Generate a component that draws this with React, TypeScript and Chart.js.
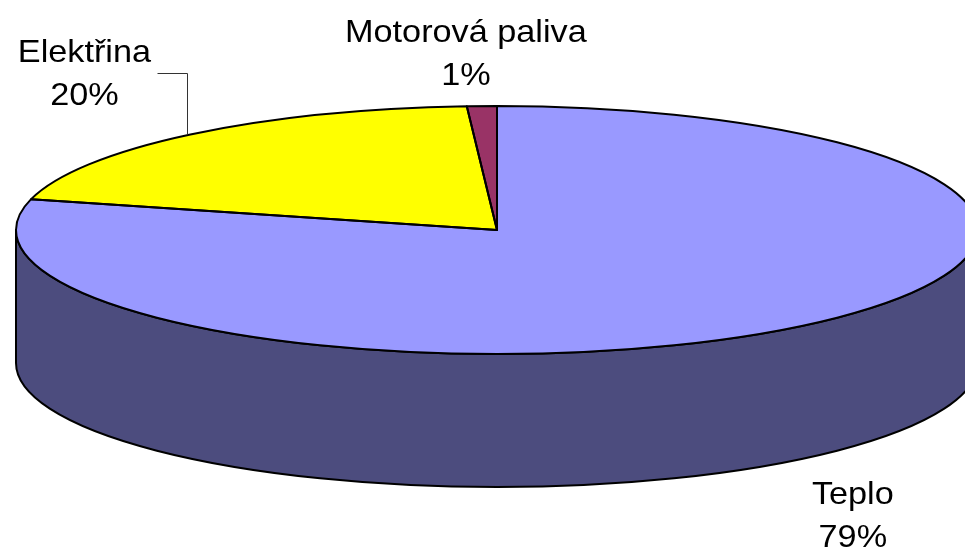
import React, { useEffect, useRef } from 'react';
import { Chart, registerables } from 'chart.js';

Chart.register(...registerables);

// ---- data ----
const categories = ['Teplo', 'Elektřina', 'Motorová paliva'];
const values = [79, 20, 1];

// ---- styles ----
const topColors = ['#9999FF', '#FFFF00', '#993366'];
const sideColors = ['#4C4C7E', '#80807F', '#4C1933'];
const FONT = '32px "Liberation Sans", Arial, sans-serif';
const TEXT_STRETCH = 1.07;
const LINE_GAP = 43;

// ---- layout (3D ellipse geometry) ----
const CX = 497;
const CY = 230;
const RX = 481;
const RY = 124;
const DEPTH = 133;

// label offsets relative to the slice mid-point on the top rim
const labelOffsets = [
  { dx: 61, dy: 176 },
  { dx: -106, dy: -72 },
  { dx: -16, dy: -64 },
];
// leader lines (only for Elektřina): vertical up to dy, then horizontal to dx
const leaders: ({ up: number; left: number } | null)[] = [null, { up: -61, left: -30 }, null];

const rim = (a: number, dy = 0) => ({ x: CX + RX * Math.cos(a), y: CY + dy + RY * Math.sin(a) });

const pie3d = {
  id: 'pie3d',
  beforeDatasetsDraw(chart: any) {
    const ctx: CanvasRenderingContext2D = chart.ctx;
    const arcs: any[] = chart.getDatasetMeta(0).data;
    if (!arcs.length) return;
    ctx.save();
    ctx.lineWidth = 2;
    ctx.strokeStyle = '#000';
    ctx.lineJoin = 'round';
    arcs.forEach((arc, i) => {
      const { startAngle, endAngle } = arc.getProps(['startAngle', 'endAngle'], true);
      for (const k of [-2, 0, 2]) {
        const lo = Math.max(startAngle, k * Math.PI);
        const hi = Math.min(endAngle, (k + 1) * Math.PI);
        if (hi <= lo) continue;
        ctx.beginPath();
        ctx.ellipse(CX, CY, RX, RY, 0, lo, hi, false);
        const p = rim(hi, DEPTH);
        ctx.lineTo(p.x, p.y);
        ctx.ellipse(CX, CY + DEPTH, RX, RY, 0, hi, lo, true);
        ctx.closePath();
        ctx.fillStyle = sideColors[i];
        ctx.fill();
        ctx.stroke();
      }
    });
    ctx.restore();
    const a0 = arcs[0];
    const R = a0.outerRadius;
    ctx.save();
    ctx.translate(CX, CY);
    ctx.scale(RX / R, RY / R);
    ctx.translate(-a0.x, -a0.y);
  },
  afterDatasetsDraw(chart: any) {
    const ctx: CanvasRenderingContext2D = chart.ctx;
    const arcs: any[] = chart.getDatasetMeta(0).data;
    if (!arcs.length) return;
    ctx.restore();
    ctx.save();
    ctx.lineWidth = 2;
    ctx.strokeStyle = '#000';
    ctx.lineJoin = 'round';
    arcs.forEach((arc) => {
      const { startAngle, endAngle } = arc.getProps(['startAngle', 'endAngle'], true);
      ctx.beginPath();
      ctx.moveTo(CX, CY);
      const s = rim(startAngle);
      ctx.lineTo(s.x, s.y);
      ctx.ellipse(CX, CY, RX, RY, 0, startAngle, endAngle, false);
      ctx.closePath();
      ctx.stroke();
    });
    ctx.restore();
  },
  afterDraw(chart: any) {
    const ctx: CanvasRenderingContext2D = chart.ctx;
    const arcs: any[] = chart.getDatasetMeta(0).data;
    const data: number[] = chart.data.datasets[0].data;
    const labels: string[] = chart.data.labels;
    const total = data.reduce((a, b) => a + b, 0);
    ctx.save();
    arcs.forEach((arc, i) => {
      const { startAngle, endAngle } = arc.getProps(['startAngle', 'endAngle'], true);
      const mid = (startAngle + endAngle) / 2;
      const anchor = rim(mid);
      const lx = anchor.x + labelOffsets[i].dx;
      const ly = anchor.y + labelOffsets[i].dy;
      const lead = leaders[i];
      if (lead) {
        ctx.beginPath();
        ctx.lineWidth = 1;
        ctx.strokeStyle = '#333';
        const vx = Math.round(anchor.x - 3) + 0.5;
        const hy = Math.round(anchor.y + lead.up) + 0.5;
        ctx.moveTo(vx, anchor.y);
        ctx.lineTo(vx, hy);
        ctx.lineTo(vx + lead.left, hy);
        ctx.stroke();
      }
      const lines = [labels[i], Math.round((data[i] / total) * 100) + '%'];
      ctx.font = FONT;
      ctx.fillStyle = '#000';
      ctx.textAlign = 'center';
      ctx.textBaseline = 'alphabetic';
      lines.forEach((t, j) => {
        ctx.save();
        ctx.translate(lx, ly + j * LINE_GAP);
        ctx.scale(TEXT_STRETCH, 1);
        ctx.fillText(t, 0, 0);
        ctx.restore();
      });
    });
    ctx.restore();
  },
};

export default function App() {
  const ref = useRef<HTMLCanvasElement | null>(null);
  useEffect(() => {
    if (!ref.current) return;
    const chart = new Chart(ref.current, {
      type: 'pie',
      data: {
        labels: categories,
        datasets: [
          {
            data: values,
            backgroundColor: topColors,
            borderWidth: 0,
            clip: false,
          } as any,
        ],
      },
      options: {
        animation: false,
        responsive: true,
        maintainAspectRatio: false,
        events: [],
        plugins: {
          legend: { display: false },
          tooltip: { enabled: false },
        },
      },
      plugins: [pie3d],
    });
    return () => chart.destroy();
  }, []);
  return (
    <div style={{ position: 'absolute', left: 0, top: 0, width: 965, height: 552, background: '#fff' }}>
      <canvas ref={ref} />
    </div>
  );
}
